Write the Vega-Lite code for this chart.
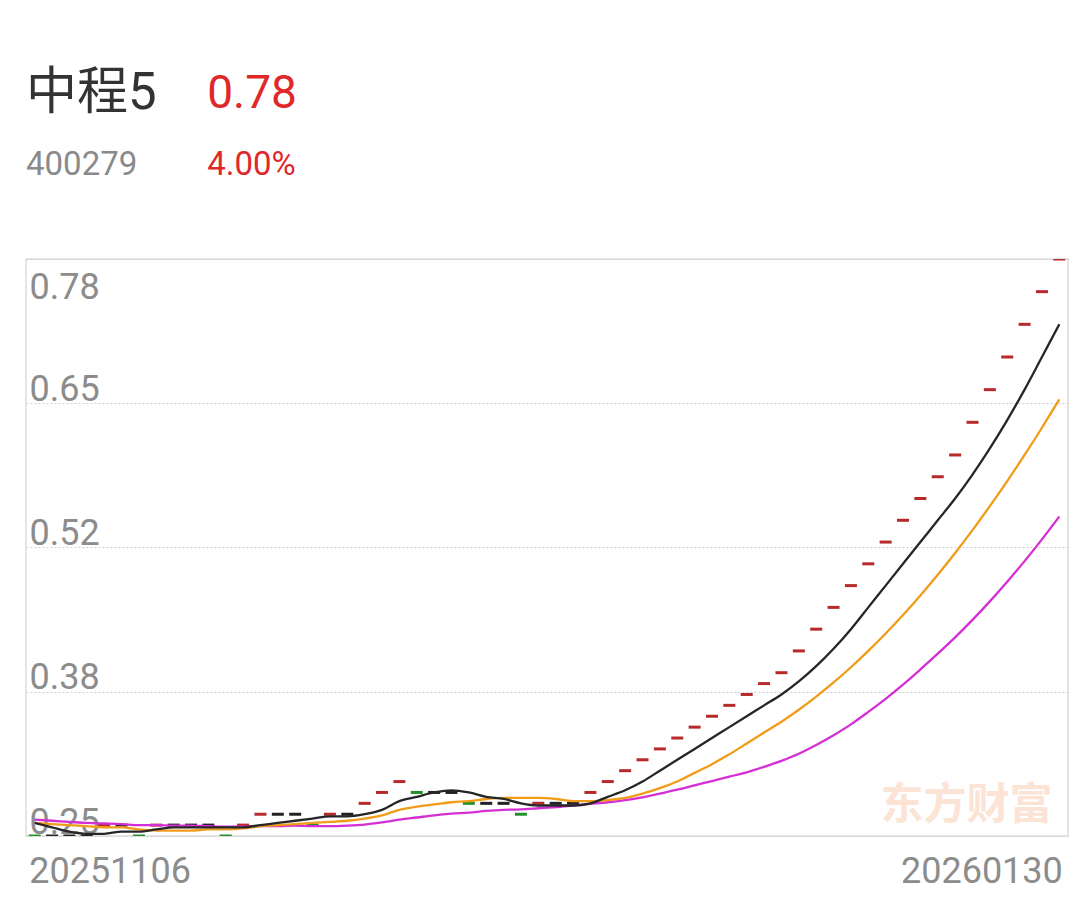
{
  "$schema": "https://vega.github.io/schema/vega-lite/v6.json",
  "background": "white",
  "padding": {"left": 25, "right": 25, "top": 0, "bottom": 5},
  "spacing": 0,
  "resolve": {"scale": {"color": "independent", "size": "independent"}},
  "config": {"view": {"stroke": null}, "font": "Roboto"},
  "vconcat": [
    {
      "width": 1042,
      "height": 258,
      "data": {"values": [
        {"col": 0, "row": 0, "kind": "name", "text": "中程5"},
        {"col": 1, "row": 0, "kind": "price", "text": "0.78"},
        {"col": 0, "row": 1, "kind": "code", "text": "400279"},
        {"col": 1, "row": 1, "kind": "chg", "text": "4.00%"}
      ]},
      "mark": {"type": "text", "align": "left", "baseline": "middle", "font": "Roboto, 'Noto Sans CJK SC', sans-serif"},
      "encoding": {
        "x": {"field": "col", "type": "quantitative", "scale": {"domain": [0, 5.75], "nice": false, "zero": false}, "axis": null},
        "y": {"field": "row", "type": "quantitative", "scale": {"domain": [-1.32, 2.314], "nice": false, "zero": false, "reverse": true}, "axis": null},
        "text": {"field": "text"},
        "size": {"field": "kind", "type": "ordinal", "scale": {"type": "ordinal", "domain": ["name", "price", "code", "chg"], "range": [51, 46, 33, 33]}, "legend": null},
        "color": {"field": "kind", "type": "nominal", "scale": {"domain": ["name", "price", "code", "chg"], "range": ["#333333", "#e0282a", "#8a8a8a", "#e0282a"]}, "legend": null}
      }
    },
    {
      "width": 1042,
      "height": 577,
      "view": {"stroke": "#dddddd", "strokeWidth": 1.5},
      "data": {"values": [
        {"d": "20251106", "close": 0.25, "dir": "down", "ma5": 0.262, "ma10": 0.262, "ma20": 0.265},
        {"d": "20251107", "close": 0.25, "dir": "flat", "ma5": 0.258, "ma10": 0.261, "ma20": 0.264},
        {"d": "20251110", "close": 0.25, "dir": "flat", "ma5": 0.254, "ma10": 0.260, "ma20": 0.263},
        {"d": "20251111", "close": 0.25, "dir": "flat", "ma5": 0.252, "ma10": 0.259, "ma20": 0.262},
        {"d": "20251112", "close": 0.26, "dir": "up", "ma5": 0.252, "ma10": 0.258, "ma20": 0.2615},
        {"d": "20251113", "close": 0.26, "dir": "flat", "ma5": 0.254, "ma10": 0.258, "ma20": 0.261},
        {"d": "20251114", "close": 0.25, "dir": "down", "ma5": 0.254, "ma10": 0.256, "ma20": 0.260},
        {"d": "20251117", "close": 0.26, "dir": "up", "ma5": 0.256, "ma10": 0.255, "ma20": 0.260},
        {"d": "20251118", "close": 0.26, "dir": "flat", "ma5": 0.258, "ma10": 0.255, "ma20": 0.2595},
        {"d": "20251119", "close": 0.26, "dir": "flat", "ma5": 0.258, "ma10": 0.255, "ma20": 0.2595},
        {"d": "20251120", "close": 0.26, "dir": "flat", "ma5": 0.258, "ma10": 0.256, "ma20": 0.259},
        {"d": "20251121", "close": 0.25, "dir": "down", "ma5": 0.258, "ma10": 0.256, "ma20": 0.2585},
        {"d": "20251124", "close": 0.26, "dir": "up", "ma5": 0.258, "ma10": 0.257, "ma20": 0.2585},
        {"d": "20251125", "close": 0.27, "dir": "up", "ma5": 0.260, "ma10": 0.259, "ma20": 0.259},
        {"d": "20251126", "close": 0.27, "dir": "flat", "ma5": 0.262, "ma10": 0.260, "ma20": 0.259},
        {"d": "20251127", "close": 0.27, "dir": "flat", "ma5": 0.264, "ma10": 0.261, "ma20": 0.2595},
        {"d": "20251128", "close": 0.26, "dir": "down", "ma5": 0.266, "ma10": 0.262, "ma20": 0.259},
        {"d": "20251201", "close": 0.27, "dir": "up", "ma5": 0.268, "ma10": 0.263, "ma20": 0.259},
        {"d": "20251202", "close": 0.27, "dir": "flat", "ma5": 0.268, "ma10": 0.264, "ma20": 0.2595},
        {"d": "20251203", "close": 0.28, "dir": "up", "ma5": 0.270, "ma10": 0.266, "ma20": 0.2605},
        {"d": "20251204", "close": 0.29, "dir": "up", "ma5": 0.274, "ma10": 0.269, "ma20": 0.2625},
        {"d": "20251205", "close": 0.30, "dir": "up", "ma5": 0.282, "ma10": 0.274, "ma20": 0.265},
        {"d": "20251208", "close": 0.29, "dir": "down", "ma5": 0.286, "ma10": 0.277, "ma20": 0.267},
        {"d": "20251209", "close": 0.29, "dir": "flat", "ma5": 0.290, "ma10": 0.279, "ma20": 0.269},
        {"d": "20251210", "close": 0.29, "dir": "flat", "ma5": 0.292, "ma10": 0.281, "ma20": 0.2705},
        {"d": "20251211", "close": 0.28, "dir": "down", "ma5": 0.290, "ma10": 0.282, "ma20": 0.2715},
        {"d": "20251212", "close": 0.28, "dir": "flat", "ma5": 0.286, "ma10": 0.284, "ma20": 0.273},
        {"d": "20251215", "close": 0.28, "dir": "flat", "ma5": 0.284, "ma10": 0.285, "ma20": 0.274},
        {"d": "20251216", "close": 0.27, "dir": "down", "ma5": 0.280, "ma10": 0.285, "ma20": 0.2745},
        {"d": "20251217", "close": 0.28, "dir": "up", "ma5": 0.278, "ma10": 0.285, "ma20": 0.2755},
        {"d": "20251218", "close": 0.28, "dir": "flat", "ma5": 0.278, "ma10": 0.284, "ma20": 0.2765},
        {"d": "20251219", "close": 0.28, "dir": "flat", "ma5": 0.278, "ma10": 0.282, "ma20": 0.278},
        {"d": "20251222", "close": 0.29, "dir": "up", "ma5": 0.280, "ma10": 0.282, "ma20": 0.2795},
        {"d": "20251223", "close": 0.30, "dir": "up", "ma5": 0.286, "ma10": 0.283, "ma20": 0.281},
        {"d": "20251224", "close": 0.31, "dir": "up", "ma5": 0.292, "ma10": 0.285, "ma20": 0.283},
        {"d": "20251225", "close": 0.32, "dir": "up", "ma5": 0.300, "ma10": 0.289, "ma20": 0.2855},
        {"d": "20251226", "close": 0.33, "dir": "up", "ma5": 0.310, "ma10": 0.294, "ma20": 0.289},
        {"d": "20251229", "close": 0.34, "dir": "up", "ma5": 0.320, "ma10": 0.300, "ma20": 0.2925},
        {"d": "20251230", "close": 0.35, "dir": "up", "ma5": 0.330, "ma10": 0.308, "ma20": 0.2965},
        {"d": "20251231", "close": 0.36, "dir": "up", "ma5": 0.340, "ma10": 0.316, "ma20": 0.3005},
        {"d": "20260105", "close": 0.37, "dir": "up", "ma5": 0.350, "ma10": 0.325, "ma20": 0.3045},
        {"d": "20260106", "close": 0.38, "dir": "up", "ma5": 0.360, "ma10": 0.335, "ma20": 0.3085},
        {"d": "20260107", "close": 0.39, "dir": "up", "ma5": 0.370, "ma10": 0.345, "ma20": 0.3135},
        {"d": "20260108", "close": 0.40, "dir": "up", "ma5": 0.380, "ma10": 0.355, "ma20": 0.319},
        {"d": "20260109", "close": 0.42, "dir": "up", "ma5": 0.392, "ma10": 0.366, "ma20": 0.3255},
        {"d": "20260112", "close": 0.44, "dir": "up", "ma5": 0.406, "ma10": 0.378, "ma20": 0.3335},
        {"d": "20260113", "close": 0.46, "dir": "up", "ma5": 0.422, "ma10": 0.391, "ma20": 0.3425},
        {"d": "20260114", "close": 0.48, "dir": "up", "ma5": 0.440, "ma10": 0.405, "ma20": 0.3525},
        {"d": "20260115", "close": 0.50, "dir": "up", "ma5": 0.460, "ma10": 0.420, "ma20": 0.364},
        {"d": "20260116", "close": 0.52, "dir": "up", "ma5": 0.480, "ma10": 0.436, "ma20": 0.376},
        {"d": "20260119", "close": 0.54, "dir": "up", "ma5": 0.500, "ma10": 0.453, "ma20": 0.389},
        {"d": "20260120", "close": 0.56, "dir": "up", "ma5": 0.520, "ma10": 0.471, "ma20": 0.403},
        {"d": "20260121", "close": 0.58, "dir": "up", "ma5": 0.540, "ma10": 0.490, "ma20": 0.4175},
        {"d": "20260122", "close": 0.60, "dir": "up", "ma5": 0.560, "ma10": 0.510, "ma20": 0.4325},
        {"d": "20260123", "close": 0.63, "dir": "up", "ma5": 0.582, "ma10": 0.531, "ma20": 0.4485},
        {"d": "20260126", "close": 0.66, "dir": "up", "ma5": 0.606, "ma10": 0.553, "ma20": 0.4655},
        {"d": "20260127", "close": 0.69, "dir": "up", "ma5": 0.632, "ma10": 0.576, "ma20": 0.4835},
        {"d": "20260128", "close": 0.72, "dir": "up", "ma5": 0.660, "ma10": 0.600, "ma20": 0.5025},
        {"d": "20260129", "close": 0.75, "dir": "up", "ma5": 0.690, "ma10": 0.625, "ma20": 0.5225},
        {"d": "20260130", "close": 0.78, "dir": "up", "ma5": 0.720, "ma10": 0.651, "ma20": 0.5435}
      ]},
      "encoding": {
        "x": {
          "field": "d", "type": "ordinal", "scale": {"type": "point", "padding": 0.5},
          "axis": {
            "values": ["20251106", "20260130"], "labelAngle": 0, "ticks": false, "tickSize": 0, "domain": false, "grid": false, "title": null,
            "labelFontSize": 36, "labelColor": "#8c8c8c", "labelFont": "Roboto", "labelPadding": 18, "labelBaseline": "top",
            "labelAlign": {"condition": {"test": "datum.value == '20251106'", "value": "left"}, "value": "right"},
            "labelOffset": {"condition": {"test": "datum.value == '20251106'", "value": -6}, "value": 3},
            "labelFlush": false, "labelOverlap": false, "labelBound": false
          }
        }
      },
      "layer": [
        {
          "data": {"values": [{"d": "20260123", "v": 0.2776, "t": "东方财富"}]},
          "mark": {"type": "text", "align": "center", "baseline": "middle", "font": "'Noto Sans CJK SC'", "fontWeight": "bold", "fontSize": 43, "color": "#fbe3d5", "dx": -6},
          "encoding": {
            "y": {"field": "v", "type": "quantitative", "scale": {"domain": [0.25, 0.78], "nice": false, "zero": false},
              "axis": {
                "values": [0.25, 0.3824, 0.5151, 0.6476, 0.78], "format": ".2f", "title": null, "domain": false, "ticks": false, "tickSize": 0,
                "labelAlign": "left", "labelPadding": -3, "labelBaseline": "alphabetic",
                "labelOffset": {"condition": {"test": "datum.value >= 0.77", "value": 39}, "value": -3},
                "labelFontSize": 36, "labelColor": "#8c8c8c", "labelFont": "Roboto",
                "labelFlush": false, "labelOverlap": false, "labelBound": false,
                "grid": true, "gridColor": "#cfcfcf", "gridDash": [2, 2], "gridWidth": 1
              }},
            "text": {"field": "t"}
          }
        },
        {
          "mark": {"type": "tick", "orient": "horizontal", "size": 12, "thickness": 3, "clip": true, "opacity": 1},
          "encoding": {
            "y": {"field": "close", "type": "quantitative", "scale": {"domain": [0.25, 0.78], "nice": false, "zero": false},
              "axis": {
                "values": [0.25, 0.3824, 0.5151, 0.6476, 0.78], "format": ".2f", "title": null, "domain": false, "ticks": false, "tickSize": 0,
                "labelAlign": "left", "labelPadding": -3, "labelBaseline": "alphabetic",
                "labelOffset": {"condition": {"test": "datum.value >= 0.77", "value": 39}, "value": -3},
                "labelFontSize": 36, "labelColor": "#8c8c8c", "labelFont": "Roboto",
                "labelFlush": false, "labelOverlap": false, "labelBound": false,
                "grid": true, "gridColor": "#cfcfcf", "gridDash": [2, 2], "gridWidth": 1
              }},
            "color": {"field": "dir", "type": "nominal", "scale": {"domain": ["up", "down", "flat"], "range": ["#b8292b", "#23902a", "#222222"]}, "legend": null}
          }
        },
        {
          "mark": {"type": "line", "color": "#d42fd4", "strokeWidth": 2.3, "interpolate": "monotone"},
          "encoding": {
            "y": {"field": "ma20", "type": "quantitative", "scale": {"domain": [0.25, 0.78], "nice": false, "zero": false},
              "axis": {
                "values": [0.25, 0.3824, 0.5151, 0.6476, 0.78], "format": ".2f", "title": null, "domain": false, "ticks": false, "tickSize": 0,
                "labelAlign": "left", "labelPadding": -3, "labelBaseline": "alphabetic",
                "labelOffset": {"condition": {"test": "datum.value >= 0.77", "value": 39}, "value": -3},
                "labelFontSize": 36, "labelColor": "#8c8c8c", "labelFont": "Roboto",
                "labelFlush": false, "labelOverlap": false, "labelBound": false,
                "grid": true, "gridColor": "#cfcfcf", "gridDash": [2, 2], "gridWidth": 1
              }}
          }
        },
        {
          "mark": {"type": "line", "color": "#f09c19", "strokeWidth": 2.3, "interpolate": "monotone"},
          "encoding": {
            "y": {"field": "ma10", "type": "quantitative", "scale": {"domain": [0.25, 0.78], "nice": false, "zero": false},
              "axis": {
                "values": [0.25, 0.3824, 0.5151, 0.6476, 0.78], "format": ".2f", "title": null, "domain": false, "ticks": false, "tickSize": 0,
                "labelAlign": "left", "labelPadding": -3, "labelBaseline": "alphabetic",
                "labelOffset": {"condition": {"test": "datum.value >= 0.77", "value": 39}, "value": -3},
                "labelFontSize": 36, "labelColor": "#8c8c8c", "labelFont": "Roboto",
                "labelFlush": false, "labelOverlap": false, "labelBound": false,
                "grid": true, "gridColor": "#cfcfcf", "gridDash": [2, 2], "gridWidth": 1
              }}
          }
        },
        {
          "mark": {"type": "line", "color": "#262626", "strokeWidth": 2.3, "interpolate": "monotone"},
          "encoding": {
            "y": {"field": "ma5", "type": "quantitative", "scale": {"domain": [0.25, 0.78], "nice": false, "zero": false},
              "axis": {
                "values": [0.25, 0.3824, 0.5151, 0.6476, 0.78], "format": ".2f", "title": null, "domain": false, "ticks": false, "tickSize": 0,
                "labelAlign": "left", "labelPadding": -3, "labelBaseline": "alphabetic",
                "labelOffset": {"condition": {"test": "datum.value >= 0.77", "value": 39}, "value": -3},
                "labelFontSize": 36, "labelColor": "#8c8c8c", "labelFont": "Roboto",
                "labelFlush": false, "labelOverlap": false, "labelBound": false,
                "grid": true, "gridColor": "#cfcfcf", "gridDash": [2, 2], "gridWidth": 1
              }}
          }
        }
      ]
    }
  ]
}
